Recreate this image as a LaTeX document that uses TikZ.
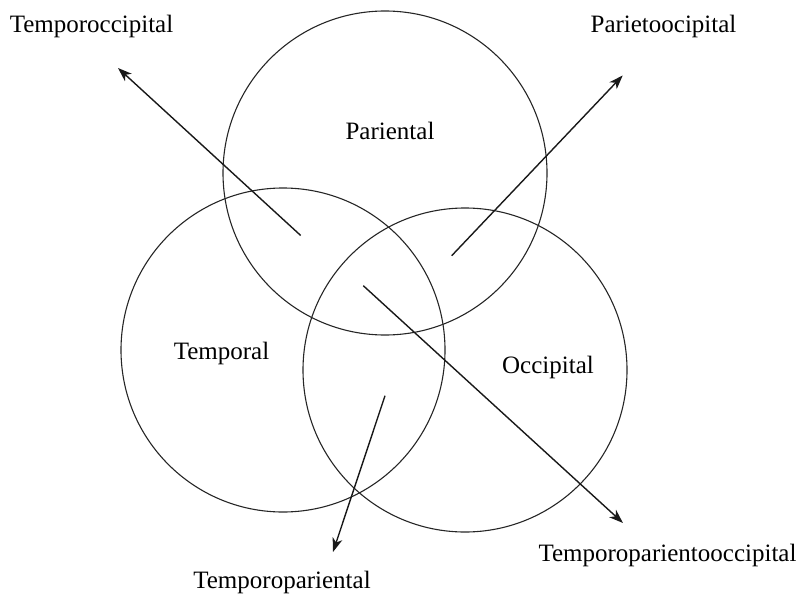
\documentclass[tikz,border=0pt]{standalone}
\usepackage{fontspec}
\setmainfont{Liberation Serif}
\usetikzlibrary{arrows.meta}
\begin{document}
\begin{tikzpicture}[x=1pt,y=-1pt,
  lobe/.style={circle,draw=black!85,line width=1.1pt,minimum size=324pt,inner sep=0pt},
  lbl/.style={inner sep=0pt,anchor=base,font=\fontsize{25}{28}\selectfont},
  pointer/.style={line width=1.4pt,draw=black!90,-{Stealth[length=14pt,width=10pt,inset=4pt]}}]
\useasboundingbox (0,0) rectangle (803,594);
\node[lobe] (par) at (385,173) {};
\node[lobe] (tem) at (283,350) {};
\node[lobe] (occ) at (465,370) {};
\node[lbl] (lpar) at (390,139) {Pariental};
\node[lbl] (ltem) at (221.5,359) {Temporal};
\node[lbl] (locc) at (548,373) {Occipital};
\node[lbl] (ltoc) at (91.5,33) {Temporoccipital};
\node[lbl] (lpoc) at (663.5,33) {Parietoocipital};
\node[lbl] (ltpo) at (667.5,561) {Temporoparientooccipital};
\node[lbl] (ltp) at (282,588) {Temporopariental};
\coordinate (s1) at (300.7,235.5);
\coordinate (t1) at (118,68);
\coordinate (s2) at (451.7,255.7);
\coordinate (t2) at (622.7,75.5);
\coordinate (s3) at (363.3,285.7);
\coordinate (t3) at (623,523);
\coordinate (s4) at (385,395.7);
\coordinate (t4) at (333,552);
\draw[pointer] (s1) -- (t1);
\draw[pointer] (s2) -- (t2);
\draw[pointer] (s3) -- (t3);
\draw[pointer] (s4) -- (t4);
\end{tikzpicture}
\end{document}
